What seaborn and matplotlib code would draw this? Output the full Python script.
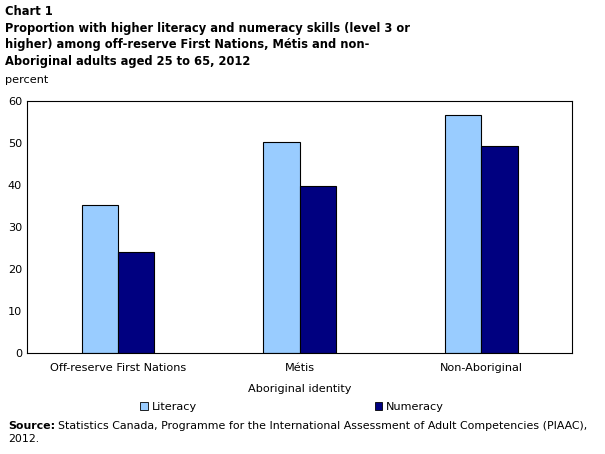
import matplotlib
matplotlib.use("Agg")
import matplotlib.pyplot as plt
import seaborn as sns
import pandas as pd

# Données
groups = ["Off-reserve First Nations", "Métis", "Non-Aboriginal"]
literacy = [35.2, 50.2, 56.6]
numeracy = [24.0, 39.7, 49.2]
series_names = ["Literacy", "Numeracy"]
colors = ["#99ccff", "#000080"]
y_ticks = [0, 10, 20, 30, 40, 50, 60]

df = pd.DataFrame({
    "group": groups * 2,
    "skill": [series_names[0]] * 3 + [series_names[1]] * 3,
    "value": literacy + numeracy,
})

sns.set_style("white")
plt.rcParams["font.family"] = ["DejaVu Sans"]
plt.rcParams["text.color"] = "black"
plt.rcParams["axes.labelcolor"] = "black"

fs = 8.1

fig = plt.figure(figsize=(6.05, 4.54), dpi=100)
ax = fig.add_axes([27 / 605, 1 - 353 / 454, 545 / 605, 252 / 454])

sns.barplot(data=df, x="group", y="value", hue="skill", order=groups,
            hue_order=series_names, palette=colors, saturation=1, width=0.4,
            edgecolor="black", linewidth=0.8, ax=ax, legend=False)

ax.set_xlim(-0.5, 2.5)
ax.set_ylim(0, 60)
ax.set_yticks(y_ticks)
ax.tick_params(axis="both", length=0, labelsize=fs, colors="black")
ax.tick_params(axis="x", pad=7)
ax.set_xlabel("Aboriginal identity", fontsize=fs, labelpad=8)
ax.set_ylabel("")
for s in ax.spines.values():
    s.set_visible(True)
    s.set_color("black")
    s.set_linewidth(0.8)

# Titre
fig.text(5 / 605, 1 - 5 / 454, "Chart 1", fontsize=8.3, fontweight="bold", va="top")
fig.text(5 / 605, 1 - 22 / 454,
         "Proportion with higher literacy and numeracy skills (level 3 or\n"
         "higher) among off-reserve First Nations, Métis and non-\n"
         "Aboriginal adults aged 25 to 65, 2012",
         fontsize=8.3, fontweight="bold", va="top", linespacing=1.33)
fig.text(5 / 605, 1 - 75 / 454, "percent", fontsize=fs, va="top")

# Légende
handles = [plt.Rectangle((0, 0), 1, 1, facecolor=c, edgecolor="black", linewidth=0.6)
           for c in colors]
fig.legend(handles, series_names, loc="center", bbox_to_anchor=(292 / 605, 1 - 407 / 454),
           ncol=2, frameon=False, fontsize=fs, handlelength=0.7, handleheight=0.7,
           handletextpad=0.3, columnspacing=15.8)

# Source
sfs = 7.9
src = fig.text(8 / 605, 1 - 421 / 454, "Source:", fontsize=sfs, fontweight="bold", va="top")
fig.canvas.draw()
bb = src.get_window_extent(fig.canvas.get_renderer())
fig.text((bb.x1 + 3) / 605, 1 - 421 / 454,
         "Statistics Canada, Programme for the International Assessment of Adult Competencies (PIAAC),",
         fontsize=sfs, va="top")
fig.text(8 / 605, 1 - 434 / 454, "2012.", fontsize=sfs, va="top")

fig.savefig("out.png", dpi=100)
